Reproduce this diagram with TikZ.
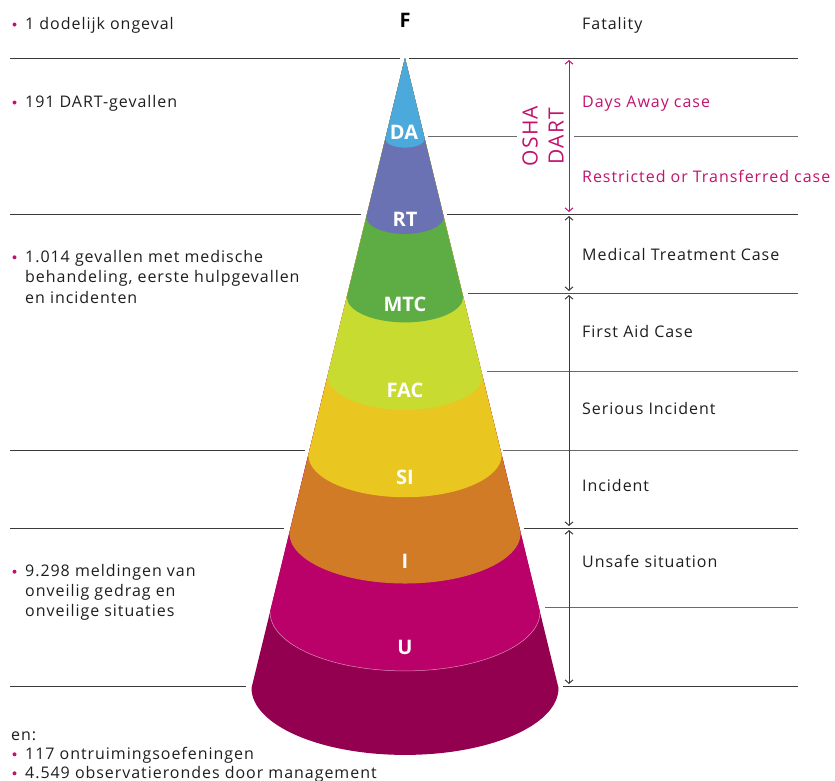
\documentclass[tikz,border=0pt]{standalone}
\usepackage{fontspec}
\setmainfont{Open Sans}[LetterSpace=6]
\newfontfamily\lblfont{Open Sans}
\usetikzlibrary{arrows.meta}
\definecolor{cDA}{HTML}{4BA9DB}
\definecolor{cRT}{HTML}{6B72B3}
\definecolor{cMTC}{HTML}{5EAC44}
\definecolor{cFAC}{HTML}{C8DB31}
\definecolor{cSI}{HTML}{E9C720}
\definecolor{cI}{HTML}{D27B27}
\definecolor{cU}{HTML}{BA0069}
\definecolor{cBase}{HTML}{930050}
\definecolor{mag}{HTML}{C2126F}
\definecolor{txtc}{HTML}{1E1E1E}
\definecolor{rule}{HTML}{3A3A3A}
\definecolor{rulegray}{HTML}{6A6A6A}
\begin{document}
\begin{tikzpicture}[x=1pt,y=-1pt,
  txt/.style={anchor=base west, inner sep=0pt, font=\fontsize{16}{20.5}\selectfont, text=txtc, align=left},
  txtb/.style={txt, font=\fontsize{16}{20}\selectfont},
  txtc/.style={txt, font=\fontsize{16}{19}\selectfont},
  rtxt/.style={txt, text=mag},
  lbl/.style={inner sep=0pt, font=\lblfont\bfseries\fontsize{20}{20}\selectfont, text=white},
  hrule/.style={draw=rule, line width=1pt},
  hgray/.style={draw=rulegray, line width=1pt},
  hmag/.style={draw=mag, line width=1pt},
  arr/.style={{Straight Barb[length=3.5pt,width=8pt]}-{Straight Barb[length=3.5pt,width=8pt]}, line width=1pt, draw=rule},
  bul/.style={fill=mag, draw=none}
]
\useasboundingbox (0,0) rectangle (835,780);

% cone: base then bands from bottom to top
\coordinate (apex) at (405,58);
\fill[cBase] (apex) -- (251.5,688) arc[start angle=180, end angle=0, x radius=153.5, y radius=66.9] -- cycle;
\fill[cU]   (apex) -- (270.0,612) arc[start angle=180, end angle=0, x radius=135.0, y radius=58.9] -- cycle;
\draw[white!55!cU, line width=0.5pt] (270.0,612) arc[start angle=180, end angle=0, x radius=135.0, y radius=58.9];
\fill[cI]   (apex) -- (289.3,533) arc[start angle=180, end angle=0, x radius=115.7, y radius=50.5] -- cycle;
\fill[cSI]  (apex) -- (308.3,455) arc[start angle=180, end angle=0, x radius=96.7, y radius=42.2] -- cycle;
\fill[cFAC] (apex) -- (327.5,376) arc[start angle=180, end angle=0, x radius=77.5, y radius=33.8] -- cycle;
\fill[cMTC] (apex) -- (346.8,297) arc[start angle=180, end angle=0, x radius=58.2, y radius=25.4] -- cycle;
\fill[cRT]  (apex) -- (366.3,217) arc[start angle=180, end angle=0, x radius=38.7, y radius=16.9] -- cycle;
\fill[cDA]  (apex) -- (385.3,139) arc[start angle=180, end angle=0, x radius=19.7, y radius=8.6] -- cycle;

% band labels
\node[lbl] (lDA)  at (404,132) {DA};
\node[lbl] (lRT)  at (405,219) {RT};
\node[lbl] (lMTC) at (405,304) {MTC};
\node[lbl] (lFAC) at (405,390) {FAC};
\node[lbl] (lSI)  at (405,477) {SI};
\node[lbl] (lI)   at (405,561) {I};
\node[lbl] (lU)   at (405,647) {U};
\node[lbl, text=black] (lF) at (405,20) {F};

% horizontal rules
\draw[hrule] (10,58) -- (400,58);
\draw[hrule] (409,58) -- (798,58);
\draw[hgray] (428,136) -- (517,136);
\draw[hgray] (574,136) -- (798,136);
\draw[hrule] (10,214) -- (361,214);
\draw[hrule] (447,214) -- (798,214);
\draw[hmag] (468,293) -- (798,293);
\draw[hgray] (487,371) -- (798,371);
\draw[hrule] (10,450) -- (305,450);
\draw[hgray] (503,450) -- (798,450);
\draw[hrule] (10,528) -- (284,528);
\draw[hrule] (524,528) -- (798,528);
\draw[hgray] (545,607) -- (798,607);
\draw[hrule] (10,686) -- (246,686);
\draw[hrule] (563,686) -- (798,686);

% vertical double arrows
\coordinate (a0) at (569,60);
\coordinate (a1) at (569,212);
\coordinate (b0) at (569,216);
\coordinate (b1) at (569,291);
\coordinate (c0) at (569,295);
\coordinate (c1) at (569,526);
\coordinate (d0) at (569,530);
\coordinate (d1) at (569,684);
\draw[arr, draw=mag] (a0) -- (a1);
\draw[arr] (b0) -- (b1);
\draw[arr] (c0) -- (c1);
\draw[arr] (d0) -- (d1);

% OSHA DART
\node[rotate=90, align=center, inner sep=0pt, text=mag, font=\fontsize{21}{26}\selectfont] (osha) at (543,136) {OSHA\\DART};

% right texts
\node[txt] (tFat) at (582,29.5) {Fatality};
\node[rtxt] (tDA) at (582,107.3) {Days Away case};
\node[rtxt] (tRT) at (582,182.7) {Restricted or Transferred case};
\node[txt] (tMTC) at (582,260) {Medical Treatment Case};
\node[txt] (tFAC) at (582,337.3) {First Aid Case};
\node[txt] (tSI) at (582,414) {Serious Incident};
\node[txt] (tInc) at (582,491) {Incident};
\node[txt] (tUns) at (582,567.7) {Unsafe situation};

% left texts (multi-line nodes are anchored at the baseline of their last line)
\fill[bul] (14.5,24.5) circle (2);
\node[txt] (L1) at (25,29.5) {1 dodelijk ongeval};
\fill[bul] (14.5,102.5) circle (2);
\node[txt] (L2) at (25,107.5) {191 DART-gevallen};
\fill[bul] (14.5,257.3) circle (2);
\node[txt] (L3) at (25,303.3) {1.014 gevallen met medische\\behandeling, eerste hulpgevallen\\en incidenten};
\fill[bul] (14.5,571.7) circle (2);
\node[txtb] (L4) at (25,616.7) {9.298 meldingen van\\onveilig gedrag en\\onveilige situaties};
\node[txt] (L5) at (11,740) {en:};
\fill[bul] (14.5,754.3) circle (2);
\node[txt] (L6) at (25,759.3) {117 ontruimingsoefeningen};
\fill[bul] (14.5,773.3) circle (2);
\node[txt] (L7) at (25,778.3) {4.549 observatierondes door management};
\end{tikzpicture}
\end{document}
